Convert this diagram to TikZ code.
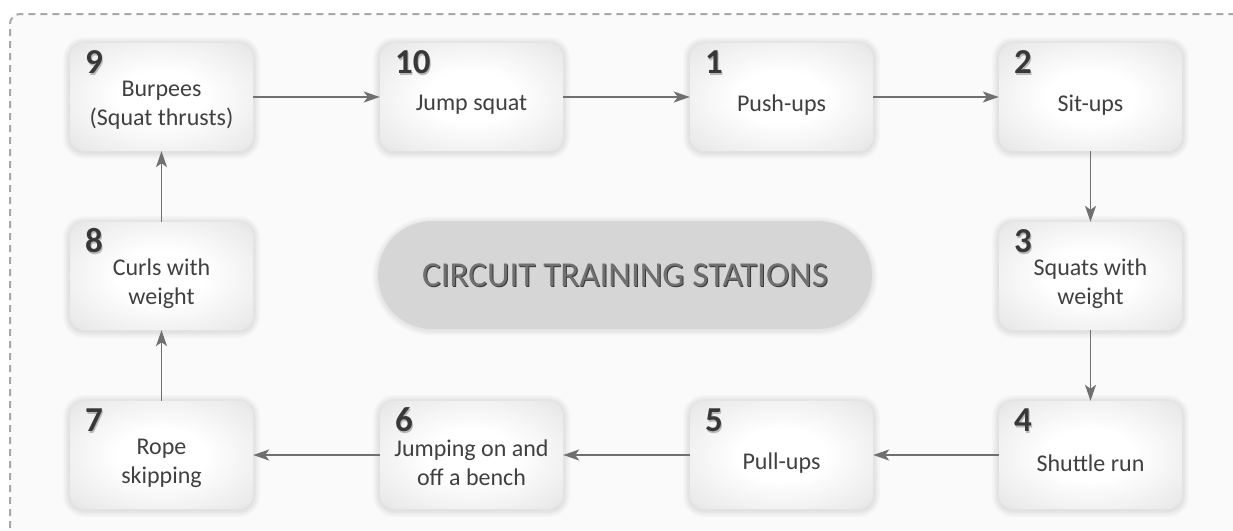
\documentclass[tikz,border=0pt]{standalone}
\usepackage{fontspec}
\setmainfont{Carlito}
\usetikzlibrary{arrows.meta,positioning}
\definecolor{txt}{HTML}{404040}
\definecolor{arrowc}{HTML}{707070}
\definecolor{dashc}{HTML}{A8A8A8}
\definecolor{bgc}{HTML}{FAFAFA}
\definecolor{capc}{HTML}{D6D6D6}
\definecolor{shA}{HTML}{ECECEC}
\definecolor{shB}{HTML}{D8D8D8}
\definecolor{shC}{HTML}{CCCCCC}
\definecolor{shD}{HTML}{C2C2C2}
\pgfdeclareradialshading{boxshade}{\pgfpoint{0bp}{0bp}}{%
  color(0bp)=(white); color(12bp)=(white); color(30bp)=(shA);
  color(44bp)=(shB); color(52bp)=(shC); color(75bp)=(shD)}
\tikzset{
  stationbox/.style={rounded corners=14pt, minimum width=183pt, minimum height=108pt,
     shading=boxshade, draw=none},
  lbl/.style={align=center, text=txt, font=\fontsize{24}{29}\selectfont},
  numtxt/.style={anchor=base west, text=black!78, font=\fontsize{35}{35}\selectfont\bfseries, inner sep=0pt},
  numshadow/.style={anchor=base west, text=gray!55, font=\fontsize{35}{35}\selectfont\bfseries, inner sep=0pt},
  flow/.style={draw=arrowc, line width=1.5pt, -{Stealth[length=16pt,width=11pt,inset=4pt]}},
  halo/.style={fill=black, fill opacity=0.02, draw=none},
}
\newcommand{\station}[5]{%
  \foreach \k in {1,...,5}{%
    \fill[halo, rounded corners={14pt+\k*1.4pt}] ({#2-91.5-\k*1.4},{#3-54-\k*1.4+1}) rectangle ({#2+91.5+\k*1.4},{#3+54+\k*1.4+1});
  }
  \node[stationbox] (#1) at (#2,#3) {};
  \node[numshadow] at ([xshift=16.2pt,yshift=-32.2pt]#1.north west) {#4};
  \node[numtxt] at ([xshift=15pt,yshift=-31pt]#1.north west) {#4};
  \node[lbl] at ([yshift=-8pt]#1.center) {#5};
}
\begin{document}
\begin{tikzpicture}[x=1pt,y=-1pt]
\useasboundingbox (0,0) rectangle (1233,530);
\fill[white] (0,0) rectangle (1233,530);
\fill[bgc] (11,15) rectangle (1233,530);
\draw[dashc, line width=2pt, dash pattern=on 7pt off 5pt, rounded corners=10pt] (10,540) -- (10,14) -- (1243,14);
% title
\foreach \k in {1,...,4}{%
  \fill[halo, rounded corners={54pt+\k*1.4pt}] ({378-\k*1.4},{221-\k*1.4+1}) rectangle ({872+\k*1.4},{329+\k*1.4+1});
}
\node[draw=none, fill=capc, rounded corners=54pt, minimum width=494pt, minimum height=108pt] (title) at (625,275) {};
\node[text=gray!45!black, font=\fontsize{35}{35}\selectfont] at ([xshift=1pt,yshift=-1.2pt]title.center) {CIRCUIT TRAINING STATIONS};
\node[text=arrowc, font=\fontsize{35}{35}\selectfont] (titletext) at (title.center) {CIRCUIT TRAINING STATIONS};
% stations
\station{s9}{161.5}{97}{9}{Burpees\\(Squat thrusts)}
\station{s10}{471.5}{97}{10}{Jump squat}
\station{s1}{781.5}{97}{1}{Push-ups}
\station{s2}{1090.5}{97}{2}{Sit-ups}
\station{s3}{1090.5}{276}{3}{Squats with\\weight}
\station{s4}{1090.5}{455}{4}{Shuttle run}
\station{s5}{781.5}{455}{5}{Pull-ups}
\station{s6}{471.5}{455}{6}{Jumping on and\\off a bench}
\station{s7}{161.5}{455}{7}{Rope\\skipping}
\station{s8}{161.5}{276}{8}{Curls with\\weight}
% connectors
\draw[flow] (s9) -- (s10);
\draw[flow] (s10) -- (s1);
\draw[flow] (s1) -- (s2);
\draw[flow] (s2) -- (s3);
\draw[flow] (s3) -- (s4);
\draw[flow] (s4) -- (s5);
\draw[flow] (s5) -- (s6);
\draw[flow] (s6) -- (s7);
\draw[flow] (s7) -- (s8);
\draw[flow] (s8) -- (s9);
\end{tikzpicture}
\end{document}
